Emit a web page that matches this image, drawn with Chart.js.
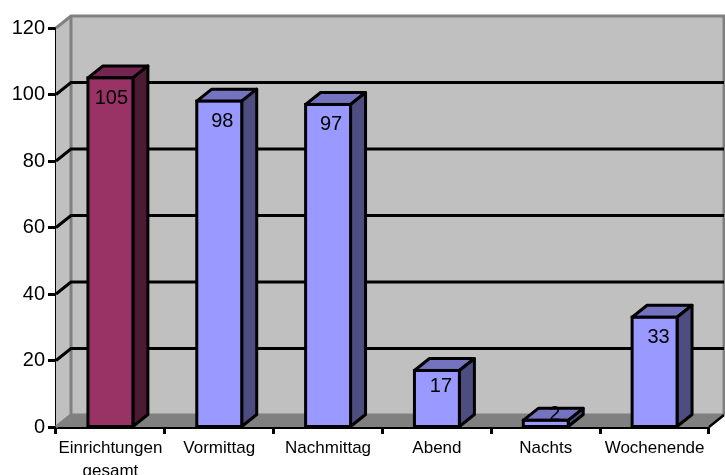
<!DOCTYPE html>
<html>
<head>
<meta charset="utf-8">
<title>Einrichtungen</title>
<script src="https://cdn.jsdelivr.net/npm/chart.js@4"></script>
<style>
  html, body { margin: 0; padding: 0; background: #fff; overflow: hidden; }
  canvas { display: block; }
</style>
</head>
<body>
<canvas id="chart" width="725" height="475"></canvas>
<script>
const categories = [["Einrichtungen", "gesamt"], "Vormittag", "Nachmittag", "Abend", "Nachts", "Wochenende"]
const values = [105, 98, 97, 17, 2, 33]

// depth of the fake 3d box
const depthX = 15
const depthY = 12

const faceColors = ["#993366", "#9999FF", "#9999FF", "#9999FF", "#9999FF", "#9999FF"]
const topColors = ["#732650", "#7373BF", "#7373BF", "#7373BF", "#7373BF", "#7373BF"]
const sideColors = ["#4D1A33", "#4D4D80", "#4D4D80", "#4D4D80", "#4D4D80", "#4D4D80"]

// value labels do not sit dead centre on the bars
const labelShiftX = [1, 3, 3, 4, 9, 4]
const labelShiftY = [21, 20, 20, 16, -6, 20]

function poly(ctx, pts, fill, stroke, lw) {
    ctx.beginPath()
    pts.forEach((p, i) => { if (i == 0) ctx.moveTo(p[0], p[1]); else ctx.lineTo(p[0], p[1]) })
    ctx.closePath()
    if (fill) { ctx.fillStyle = fill; ctx.fill() }
    if (stroke) { ctx.strokeStyle = stroke; ctx.lineWidth = lw; ctx.lineJoin = "round"; ctx.stroke() }
}

const walls = {
    id: "walls",
    beforeDatasetsDraw(chart) {
        const ctx = chart.ctx
        const a = chart.chartArea
        const y = chart.scales.y
        ctx.save()
        // back wall, side wall, floor
        poly(ctx, [[a.left + depthX, a.top - depthY], [a.right + depthX, a.top - depthY], [a.right + depthX, a.bottom - depthY], [a.left + depthX, a.bottom - depthY]], "#C0C0C0")
        poly(ctx, [[a.left, a.top], [a.left + depthX, a.top - depthY], [a.left + depthX, a.bottom - depthY], [a.left, a.bottom]], "#C0C0C0")
        poly(ctx, [[a.left, a.bottom], [a.left + depthX, a.bottom - depthY], [a.right + depthX, a.bottom - depthY], [a.right, a.bottom]], "#808080")

        ctx.strokeStyle = "#808080"
        ctx.lineWidth = 3
        ctx.beginPath()
        ctx.moveTo(a.left, a.top)
        ctx.lineTo(a.left + depthX, a.top - depthY)
        ctx.lineTo(a.right + depthX, a.top - depthY)
        ctx.lineTo(a.right + depthX, a.bottom - depthY)
        ctx.moveTo(a.left + depthX, a.top - depthY)
        ctx.lineTo(a.left + depthX, a.bottom - depthY)
        ctx.lineTo(a.right + depthX, a.bottom - depthY)
        ctx.moveTo(a.left + depthX, a.bottom - depthY)
        ctx.lineTo(a.left, a.bottom)
        ctx.stroke()

        // floor edge on the right is dark
        ctx.strokeStyle = "#000"
        ctx.lineWidth = 2.5
        ctx.beginPath()
        ctx.moveTo(a.right + depthX, a.bottom - depthY)
        ctx.lineTo(a.right, a.bottom)
        ctx.stroke()

        // grid lines run along the side wall and across the back
        ctx.lineWidth = 3
        y.ticks.forEach(t => {
            if (t.value == 0 || t.value == y.max) return
            const py = y.getPixelForValue(t.value)
            ctx.beginPath()
            ctx.moveTo(a.left, py)
            ctx.lineTo(a.left + depthX, py - depthY)
            ctx.lineTo(a.right + depthX, py - depthY)
            ctx.stroke()
        })
        ctx.restore()

        // box sides go under the front face
        const bars = chart.getDatasetMeta(0).data
        ctx.save()
        bars.forEach((b, i) => {
            const l = b.x - b.width / 2
            const r = b.x + b.width / 2
            poly(ctx, [[l, b.y], [l + depthX, b.y - depthY], [r + depthX, b.y - depthY], [r, b.y]], topColors[i], "#000", 3)
            poly(ctx, [[r, b.y], [r + depthX, b.y - depthY], [r + depthX, b.base - depthY], [r, b.base]], sideColors[i], "#000", 3)
        })
        ctx.restore()
    },
    afterDatasetsDraw(chart) {
        const ctx = chart.ctx
        ctx.save()
        chart.getDatasetMeta(0).data.forEach((b, i) => {
            // outline sits centred on the bar edge
            ctx.strokeStyle = "#000"
            ctx.lineWidth = 3
            ctx.strokeRect(b.x - b.width / 2, b.y, b.width, b.base - b.y)
        })
        ctx.fillStyle = "#000"
        ctx.font = "20px 'Liberation Sans'"
        ctx.textAlign = "center"
        ctx.textBaseline = "middle"
        chart.getDatasetMeta(0).data.forEach((b, i) => {
            ctx.fillText(String(values[i]), b.x + labelShiftX[i], b.y + labelShiftY[i])
        })
        ctx.restore()
    }
}

new Chart(document.getElementById("chart"), {
    type: "bar",
    data: {
        labels: categories,
        datasets: [{
            data: values,
            backgroundColor: faceColors,
            borderWidth: 0,
            barPercentage: 0.413,
            categoryPercentage: 1
        }]
    },
    options: {
        responsive: false,
        animation: false,
        layout: { padding: { left: 0, right: 16, top: 28, bottom: 0 } },
        plugins: { legend: { display: false }, tooltip: { enabled: false } },
        scales: {
            x: {
                afterFit(s) { s.height = 48; s.paddingLeft = 0; s.paddingRight = 0 },
                grid: { drawOnChartArea: false, drawTicks: true, tickLength: 7, tickColor: "#000", tickWidth: 3 },
                border: { color: "#000", width: 3 },
                ticks: { color: "#000", font: { family: "Liberation Sans", size: 17, lineHeight: 1.33 }, maxRotation: 0, autoSkip: false, padding: 3 }
            },
            y: {
                min: 0,
                max: 120,
                afterFit(s) { s.width = 56; s.paddingTop = 0; s.paddingBottom = 0 },
                grid: { drawOnChartArea: false, drawTicks: true, tickLength: 8, tickColor: "#000", tickWidth: 3 },
                border: { color: "#000", width: 3 },
                ticks: { stepSize: 20, color: "#000", font: { family: "Liberation Sans", size: 20 }, padding: 3 }
            }
        }
    },
    plugins: [walls]
})
</script>
</body>
</html>
